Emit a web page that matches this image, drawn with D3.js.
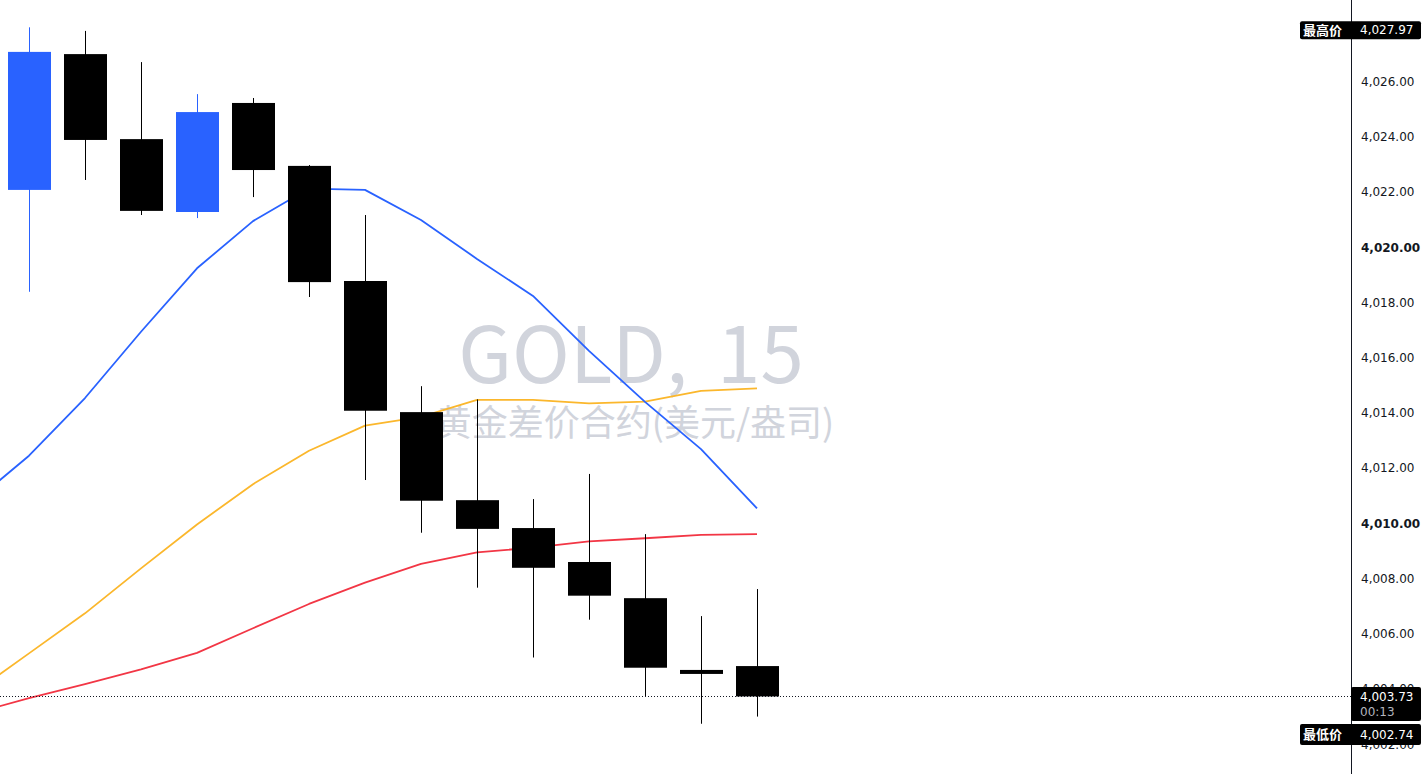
<!DOCTYPE html>
<html lang="zh">
<head>
  <meta charset="UTF-8">
  <title>GOLD, 15</title>
  <script src="https://d3js.org/d3.v7.min.js"></script>
  <style>
    body { margin: 0; background: #fff; }
    svg { display: block; }
    .tick-label { font-family: "DejaVu Sans", sans-serif; font-size: 12px; fill: #131722; }
    .tag { font-family: "DejaVu Sans", sans-serif; font-size: 12px; fill: #fff; }
    .watermark { font-family: "Noto Sans CJK SC", sans-serif; fill: #d1d4dc; text-anchor: middle; }
  </style>
</head>
<body>
  <svg id="chart" width="1424" height="774"></svg>
  <script>
    // bougies 15 min
    const candleOpen  = [4022.08, 4027.00, 4023.92, 4021.28, 4025.23, 4022.95, 4018.78, 4014.03, 4010.84, 4009.83, 4008.60, 4007.29, 4004.69, 4004.83];
    const candleHigh  = [4027.97, 4027.84, 4026.71, 4025.55, 4025.41, 4022.98, 4021.17, 4014.97, 4014.49, 4010.88, 4011.79, 4009.61, 4006.64, 4007.62];
    const candleLow   = [4018.39, 4022.44, 4021.17, 4021.06, 4021.82, 4018.20, 4011.57, 4009.66, 4007.67, 4005.14, 4006.51, 4003.71, 4002.74, 4003.00];
    const candleClose = [4027.08, 4023.89, 4021.32, 4024.90, 4022.80, 4018.74, 4014.08, 4010.82, 4009.80, 4008.39, 4007.38, 4004.77, 4004.55, 4003.73];

    // moyennes mobiles (premier point = bougie précédente, hors écran)
    const maFast = [4010.75, 4012.45, 4014.54, 4016.94, 4019.24, 4020.95, 4022.13, 4022.08, 4020.99, 4019.58, 4018.24, 4016.25, 4014.40, 4012.69, 4010.54];
    const maMid  = [4003.84, 4005.29, 4006.74, 4008.37, 4009.96, 4011.42, 4012.63, 4013.54, 4013.86, 4014.47, 4014.47, 4014.35, 4014.41, 4014.80, 4014.89];
    const maSlow = [4003.11, 4003.67, 4004.18, 4004.71, 4005.31, 4006.20, 4007.08, 4007.85, 4008.53, 4008.95, 4009.12, 4009.35, 4009.46, 4009.58, 4009.61];

    const priceTicks = [4002, 4004, 4006, 4008, 4010, 4012, 4014, 4016, 4018, 4020, 4022, 4024, 4026];
    const boldTicks = [4010, 4020];

    const highPrice = 4027.97;
    const lowPrice = 4002.74;
    const lastPrice = 4003.73;
    const countdown = "00:13";
    const highLabel = "最高价";
    const lowLabel = "最低价";
    const titleText = "GOLD, 15";
    const subtitleText = "黄金差价合约(美元/盎司)";

    const width = 1424, height = 774;
    const axisX = 1351;

    const svg = d3.select("#chart");
    const fmt = d3.format(",.2f");

    const x = d3.scaleLinear().domain([-1, 13]).range([-27, 757]);
    const y = d3.scaleLinear().domain([4000.92, 4028.96]).range([height, 0]);

    const upColor = "#2962ff", downColor = "#000000";
    const bodyW = 43;

    // filigrane
    svg.append("text").attr("class", "watermark")
      .attr("x", 631).attr("y", 383)
      .style("font-size", "78px")
      .style("word-spacing", "12px")
      .text(titleText);
    svg.append("text").attr("class", "watermark")
      .attr("x", 635).attr("y", 436)
      .style("font-size", "36px")
      .text(subtitleText);

    // lignes des moyennes
    const line = d3.line().x((d, i) => x(i - 1)).y(d => y(d));
    [[maSlow, "#f23645"], [maMid, "#fbb72c"], [maFast, "#2962ff"]].forEach(([data, color]) => {
      svg.append("path")
        .datum(data)
        .attr("fill", "none")
        .attr("stroke", color)
        .attr("stroke-width", 1.8)
        .attr("stroke-linejoin", "round")
        .attr("d", line);
    });

    // bougies
    const candles = candleOpen.map((o, i) => ({
      i, open: o, high: candleHigh[i], low: candleLow[i], close: candleClose[i]
    }));

    const g = svg.append("g");
    g.selectAll(".wick").data(candles).join("line")
      .attr("class", "wick")
      .attr("x1", d => Math.round(x(d.i)) + 0.5)
      .attr("x2", d => Math.round(x(d.i)) + 0.5)
      .attr("y1", d => y(d.high))
      .attr("y2", d => y(d.low))
      .attr("stroke", d => d.close >= d.open ? upColor : downColor)
      .attr("stroke-width", 1);

    g.selectAll(".body").data(candles).join("rect")
      .attr("class", "body")
      .attr("x", d => Math.round(x(d.i)) - 21)
      .attr("width", bodyW)
      .attr("y", d => y(Math.max(d.open, d.close)))
      .attr("height", d => Math.max(4, Math.abs(y(d.open) - y(d.close))))
      .attr("fill", d => d.close >= d.open ? upColor : downColor);

    // ligne du dernier prix
    const yLast = Math.round(y(lastPrice)) + 0.5;
    svg.append("line")
      .attr("x1", 0).attr("x2", axisX)
      .attr("y1", yLast).attr("y2", yLast)
      .attr("stroke", "#131722")
      .attr("stroke-width", 1)
      .attr("stroke-dasharray", "1,2");

    // échelle de prix à droite
    svg.append("line")
      .attr("x1", axisX + 0.5).attr("x2", axisX + 0.5)
      .attr("y1", 0).attr("y2", height)
      .attr("stroke", "#131722");

    svg.selectAll(".tick-label").data(priceTicks).join("text")
      .attr("class", "tick-label")
      .attr("x", 1361)
      .attr("y", d => y(d))
      .attr("dy", "0.36em")
      .style("font-weight", d => boldTicks.includes(d) ? "bold" : "normal")
      .text(d => fmt(d));

    function tag(cy, h, label, value) {
      const top = cy - h / 2;
      svg.append("rect")
        .attr("x", label ? 1300 : axisX).attr("y", top)
        .attr("width", label ? 121 : 70).attr("height", h)
        .attr("rx", 2)
        .attr("fill", "#000");
      if (label) {
        svg.append("text").attr("class", "tag")
          .attr("x", 1303).attr("y", cy).attr("dy", "0.36em")
          .style("font-family", "'Noto Sans CJK SC', sans-serif")
          .style("font-size", "13px")
          .style("font-weight", "bold")
          .text(label);
      }
      svg.append("text").attr("class", "tag")
        .attr("x", 1360).attr("y", cy).attr("dy", "0.36em")
        .text(value);
    }

    // étiquette du dernier prix (deux lignes)
    const lastTop = y(lastPrice) - 9.5;
    svg.append("rect")
      .attr("x", axisX).attr("y", lastTop)
      .attr("width", 70).attr("height", 34)
      .attr("rx", 2)
      .attr("fill", "#000");
    svg.append("text").attr("class", "tag")
      .attr("x", 1360).attr("y", lastTop + 9.5).attr("dy", "0.36em")
      .text(fmt(lastPrice));
    svg.append("text").attr("class", "tag")
      .attr("x", 1360).attr("y", lastTop + 25).attr("dy", "0.36em")
      .style("fill", "#b2b5be")
      .text(countdown);

    tag(y(highPrice) + 2.8, 18, highLabel, fmt(highPrice));
    // décalé sous l'étiquette du dernier prix
    const lowCy = Math.max(y(lowPrice), lastTop + 34 + 3 + 10.5);
    tag(lowCy, 21, lowLabel, fmt(lowPrice));
  </script>
</body>
</html>
